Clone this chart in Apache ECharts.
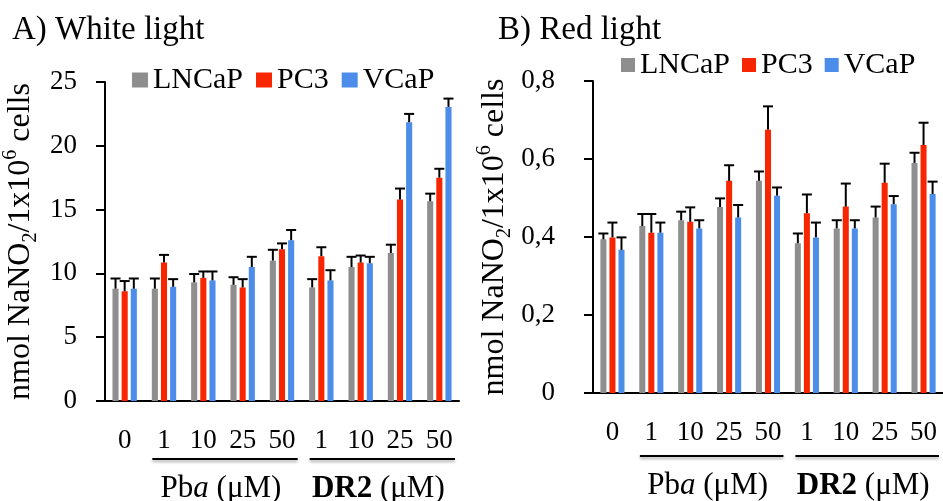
<!DOCTYPE html>
<html>
<head>
<meta charset="utf-8">
<script src="https://cdn.jsdelivr.net/npm/echarts@6/dist/echarts.min.js"></script>
<style>
html,body{margin:0;padding:0;background:#fff;}
#main{width:943px;height:501px;}
</style>
</head>
<body>
<div id="main"></div>
<script>
// concentrations (uM): 0, then Pba 1..50, then DR2 1..50
var doses = ['0', '1', '10', '25', '50', '1', '10', '25', '50'];
var cellLines = ['LNCaP', 'PC3', 'VCaP'];
var colors = ['#8e8e8e', '#f72600', '#4b8de9'];

// A) white light, nmol NaNO2 / 1x10^6 cells
var whiteLNCaP = [8.8, 8.8, 9.3, 9.1, 11.0, 8.9, 10.5, 11.6, 15.65];
var whiteLNCaPErr = [0.8, 0.8, 0.65, 0.6, 0.85, 0.65, 0.8, 0.65, 0.6];
var whitePC3 = [8.6, 10.85, 9.65, 8.9, 11.9, 11.35, 10.85, 15.8, 17.5];
var whitePC3Err = [0.8, 0.6, 0.5, 0.65, 0.45, 0.7, 0.55, 0.85, 0.7];
var whiteVCaP = [8.8, 8.95, 9.45, 10.5, 12.6, 9.45, 10.8, 21.85, 23.05];
var whiteVCaPErr = [0.8, 0.6, 0.7, 0.8, 0.8, 0.8, 0.5, 0.65, 0.65];

// B) red light
var redLNCaP = [0.394, 0.428, 0.443, 0.477, 0.544, 0.384, 0.422, 0.450, 0.590];
var redLNCaPErr = [0.015, 0.031, 0.022, 0.022, 0.024, 0.025, 0.021, 0.028, 0.026];
var redPC3 = [0.399, 0.411, 0.439, 0.544, 0.675, 0.461, 0.478, 0.539, 0.636];
var redPC3Err = [0.038, 0.048, 0.037, 0.040, 0.060, 0.048, 0.059, 0.049, 0.057];
var redVCaP = [0.367, 0.411, 0.422, 0.450, 0.506, 0.399, 0.422, 0.484, 0.510];
var redVCaPErr = [0.032, 0.026, 0.021, 0.032, 0.021, 0.038, 0.021, 0.021, 0.032];

var whiteTicks = [0, 5, 10, 15, 20, 25];
var redTicks = [0, 0.2, 0.4, 0.6, 0.8];

var FONT = 'Liberation Serif';
var BAR_W = 0.155;   // fraction of category
var BAR_GAP = 0.5;   // fraction of bar width

var myChart = echarts.init(document.getElementById('main'));

function errSeries(name, k, grid, means, errs) {
    var data = [];
    for (var i = 0; i < means.length; i++) data.push([i, means[i], errs[i]]);
    return {
        name: name,
        type: 'custom',
        xAxisIndex: grid,
        yAxisIndex: grid,
        z: 5,
        silent: true,
        encode: {x: 0, y: 1},
        data: data,
        renderItem: function (params, api) {
            var base = api.coord([api.value(0), api.value(1)]);
            var top = api.coord([api.value(0), api.value(1) + api.value(2)]);
            var band = api.size([1, 0])[0];
            var bw = band * BAR_W;
            var x = base[0] + (k - 1) * bw * (1 + BAR_GAP);
            var style = {stroke: '#000', lineWidth: 2};
            return {
                type: 'group',
                children: [
                    {type: 'line', shape: {x1: x, y1: base[1], x2: x, y2: top[1]}, style: style},
                    {type: 'line', shape: {x1: x - 5, y1: top[1], x2: x + 5, y2: top[1]}, style: style}
                ]
            };
        }
    };
}

function barSeries(name, k, grid, values) {
    return {
        name: name,
        type: 'bar',
        xAxisIndex: grid,
        yAxisIndex: grid,
        barWidth: (BAR_W * 100) + '%',
        barGap: (BAR_GAP * 100) + '%',
        itemStyle: {color: colors[k]},
        data: values
    };
}

var axisName = 'nmol NaNO{sub|2}/1x10{sup|6} cells';
var nameStyle = {
    fontFamily: FONT, fontSize: 32, color: '#000', lineHeight: 40,
    rich: {
        sub: {fontFamily: FONT, fontSize: 20, color: '#000', verticalAlign: 'bottom'},
        sup: {fontFamily: FONT, fontSize: 20, color: '#000', verticalAlign: 'top'}
    }
};

function xAxisOpt(grid) {
    return {
        type: 'category',
        gridIndex: grid,
        data: doses,
        axisLine: {lineStyle: {color: '#000', width: 2}},
        axisTick: {length: 8, lineStyle: {color: '#000', width: 2}},
        axisLabel: {fontFamily: FONT, fontSize: 27, color: '#000', margin: 26, interval: 0}
    };
}

function yAxisOpt(grid, ticks, margin, gap, fmt) {
    return {
        type: 'value',
        gridIndex: grid,
        min: ticks[0],
        max: ticks[ticks.length - 1],
        interval: ticks[1] - ticks[0],
        name: axisName,
        nameLocation: 'middle',
        nameRotate: 90,
        nameGap: gap,
        nameTextStyle: nameStyle,
        splitLine: {show: false},
        axisLine: {show: true, lineStyle: {color: '#000', width: 2}},
        axisTick: {show: true, length: 9, lineStyle: {color: '#000', width: 2}},
        axisLabel: {fontFamily: FONT, fontSize: 27, color: '#000', margin: margin, formatter: fmt}
    };
}

var legendText = {fontFamily: FONT, fontSize: 30, color: '#000'};
var titleText = {fontFamily: FONT, fontSize: 33, fontWeight: 'normal', color: '#000'};

var option = {
    animation: false,
    title: [
        {text: 'A) White light', left: 7, top: 9, textStyle: titleText},
        {text: 'B) Red light', left: 493, top: 9, textStyle: titleText}
    ],
    legend: [
        {data: cellLines, left: 127, top: 60, icon: 'rect', itemWidth: 16, itemHeight: 15, itemGap: 13, textStyle: legendText},
        {data: cellLines, left: 616, top: 45, icon: 'rect', itemWidth: 14, itemHeight: 14, itemGap: 12, textStyle: legendText}
    ],
    grid: [
        {left: 100, right: 484, top: 82, bottom: 100},
        {left: 593, right: -5, top: 81, bottom: 108}
    ],
    xAxis: [xAxisOpt(0), xAxisOpt(1)],
    yAxis: [
        yAxisOpt(0, whiteTicks, 28, 64, null),
        yAxisOpt(1, redTicks, 38, 78, function (v) {
            return v === 0 ? '0' : v.toFixed(1).replace('.', ',');
        })
    ],
    series: [
        barSeries('LNCaP', 0, 0, whiteLNCaP),
        barSeries('PC3', 1, 0, whitePC3),
        barSeries('VCaP', 2, 0, whiteVCaP),
        errSeries('LNCaP', 0, 0, whiteLNCaP, whiteLNCaPErr),
        errSeries('PC3', 1, 0, whitePC3, whitePC3Err),
        errSeries('VCaP', 2, 0, whiteVCaP, whiteVCaPErr),
        barSeries('LNCaP', 0, 1, redLNCaP),
        barSeries('PC3', 1, 1, redPC3),
        barSeries('VCaP', 2, 1, redVCaP),
        errSeries('LNCaP', 0, 1, redLNCaP, redLNCaPErr),
        errSeries('PC3', 1, 1, redPC3, redPC3Err),
        errSeries('VCaP', 2, 1, redVCaP, redVCaPErr)
    ]
};

myChart.setOption(option);

// treatment brackets under the dose labels
var groupStyle = {fontFamily: FONT, fontSize: 31, fill: '#000'};
var graphics = [];
[[0, 58, 88], [1, 63, 93]].forEach(function (p) {
    var g = p[0];
    var c1 = myChart.convertToPixel({xAxisIndex: g}, 1);
    var c2 = myChart.convertToPixel({xAxisIndex: g}, 2);
    var band = c2 - c1;
    var y0 = myChart.convertToPixel({yAxisIndex: g}, 0);
    var spans = [[1, 4, '{i|Pb}{it|a}{i| (μM)}'], [5, 8, '{b|DR2}{i| (μM)}']];
    spans.forEach(function (s) {
        var xa = myChart.convertToPixel({xAxisIndex: g}, s[0]) - band / 2 + 8;
        var xb = myChart.convertToPixel({xAxisIndex: g}, s[1]) + band / 2 - 4;
        graphics.push({
            type: 'line',
            shape: {x1: xa, y1: y0 + p[1], x2: xb, y2: y0 + p[1]},
            style: {stroke: '#000', lineWidth: 2, shadowColor: 'rgba(0,0,0,0.35)', shadowBlur: 3, shadowOffsetY: 2}
        });
        graphics.push({
            type: 'text',
            x: (xa + xb) / 2 - 4,
            y: y0 + p[2],
            style: {
                text: s[2],
                align: 'center',
                verticalAlign: 'middle',
                fontFamily: FONT,
                fontSize: 31,
                fill: '#000',
                rich: {
                    i: groupStyle,
                    it: {fontFamily: FONT, fontSize: 31, fill: '#000', fontStyle: 'italic'},
                    b: {fontFamily: FONT, fontSize: 31, fill: '#000', fontWeight: 'bold'}
                }
            }
        });
    });
});
myChart.setOption({graphic: graphics});
</script>
</body>
</html>
